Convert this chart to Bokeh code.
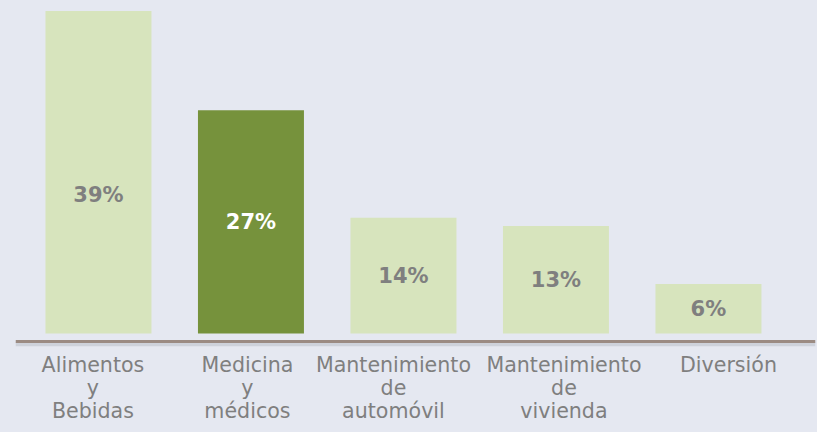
import numpy as np
from bokeh.plotting import figure
from bokeh.models import Range1d, ColumnDataSource, Span
from bokeh.core.properties import value
from bokeh.embed import file_html
from bokeh.resources import INLINE

categories = ["Alimentos\ny\nBebidas", "Medicina\ny\nmédicos", "Mantenimiento\nde\nautomóvil",
              "Mantenimiento\nde\nvivienda", "Diversión"]
values = [39, 27, 14, 13, 6]
highlight = [False, True, False, False, False]

BG = "#E5E8F1"
LIGHT = "#D7E4BD"
DARK = "#76923C"
GRAY = "#7F7F7F"
AXIS = "#9B8B83"

# horizontal nudges (px) of category labels, as laid out in the original chart
label_nudge = [-5.5, -3.5, -10, 8, 20]

xs = list(range(len(categories)))
vals = np.array(values, dtype=float)
label_y = np.minimum(vals / 2, 16.7)
src = ColumnDataSource(dict(
    x=xs, top=values, zero=[0] * len(xs),
    color=[DARK if h else LIGHT for h in highlight],
    label=[f"{v}%" for v in values],
    label_color=["white" if h else GRAY for h in highlight],
    ly=label_y,
    cat=categories,
    nudge=label_nudge,
))

p = figure(width=817, height=432, output_backend="svg", toolbar_location=None,
           x_range=Range1d(-0.544, 4.702), y_range=Range1d(-11.97, 40.27),
           min_border_left=15, min_border_right=2, min_border_top=0, min_border_bottom=0,
           x_axis_location=None, y_axis_location=None)
p.background_fill_color = BG
p.border_fill_color = BG
p.outline_line_color = None
p.xgrid.visible = False
p.ygrid.visible = False

p.vbar(x="x", top="top", bottom=0, width=0.695, fill_color="color", line_color=None, source=src)
p.text(x="x", y="ly", text="label", text_color="label_color", source=src,
       text_align="center", text_baseline="middle", text_font=value("DejaVu Sans"),
       text_font_size="21px", text_font_style="bold")

# baseline (category axis line) with a faint shadow
p.add_layout(Span(location=-1.3, dimension="width", line_color="#B8BCC6", line_width=4, line_alpha=0.5))
p.add_layout(Span(location=-0.967, dimension="width", line_color=AXIS, line_width=3))

# category labels
p.text(x="x", y="zero", text="cat", source=src, x_offset="nudge", y_offset=19,
       text_align="center", text_baseline="top", text_color=GRAY,
       text_font=value("DejaVu Sans"), text_font_size="20.6px", text_line_height=0.97)

html = file_html(p, INLINE)
html = html.replace("<head>", "<head><style>html,body{background:%s;}</style>" % BG, 1)
open("out.html", "w").write(html)
